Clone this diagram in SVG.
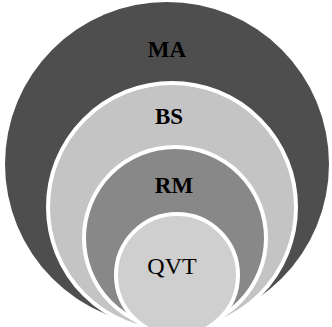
<svg xmlns="http://www.w3.org/2000/svg" width="332" height="327" viewBox="0 0 332 327">
<style>
.ring{stroke:#ffffff;stroke-width:4}
.lbl{font-family:"Liberation Serif","Times New Roman",serif;font-weight:bold;font-size:23px;fill:#000;text-anchor:middle}
.reg{font-weight:normal;font-size:24px}
</style>
<rect width="332" height="327" fill="#ffffff"/>
<g id="MA"><circle cx="167" cy="164" r="162" fill="#4e4e4e"/><text class="lbl" x="167" y="57">MA</text></g>
<g id="BS"><circle class="ring" cx="172" cy="207" r="124" fill="#c4c4c4"/><text class="lbl" x="169" y="124">BS</text></g>
<g id="RM"><circle class="ring" cx="175" cy="238" r="91" fill="#888888"/><text class="lbl" x="174" y="193">RM</text></g>
<g id="QVT"><circle class="ring" cx="177" cy="275" r="61" fill="#cfcfcf"/><text class="lbl reg" x="172" y="274">QVT</text></g>
<g id="connectors"/>
</svg>
